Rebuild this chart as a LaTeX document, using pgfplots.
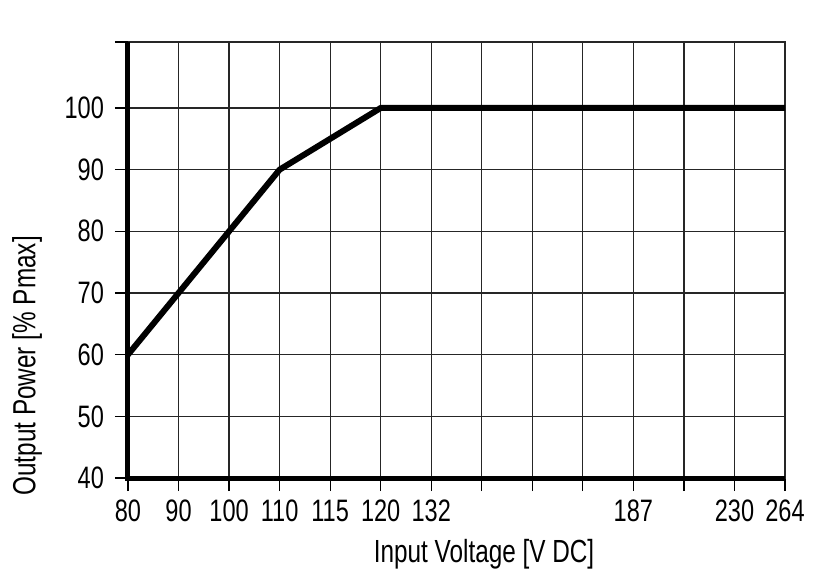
\documentclass[border=0pt]{standalone}
\usepackage{fontspec}
\setmainfont{Liberation Sans}[FakeStretch=0.76]
\usepackage{pgfplots}
\pgfplotsset{compat=1.18}

\begin{document}
\begin{tikzpicture}
\begin{axis}[
    scale only axis,
    width=328.5pt,
    height=218pt,
    xmin=0, xmax=13,
    ymin=40, ymax=110.7,
    xtick={0,1,...,13},
    xticklabels={80,90,100,110,115,120,132,,,,187,,230,264},
    ytick={40,50,...,100},
    extra y ticks={110.7},
    extra y tick labels={},
    extra y tick style={grid=none},
    /pgf/number format/assume math mode=true,
    tick align=outside,
    xtick pos=left,
    ytick pos=left,
    major tick length=6.5pt,
    tick style={black, line width=0.65pt},
    grid=major,
    grid style={black!85, line width=0.65pt},
    axis line style={black!85, line width=0.65pt},
    tick label style={font=\fontsize{15.5}{18}\selectfont},
    xticklabel style={yshift=-1pt},
    yticklabel style={xshift=-2pt},
    label style={font=\fontsize{16}{19}\selectfont},
    xlabel={Input Voltage [V DC]},
    ylabel={Output Power [\% Pmax]},
    xlabel style={at={(axis description cs:0.542,-0.174)}, anchor=center},
    ylabel style={at={(axis description cs:-0.1537,0.257)}, anchor=center},
    clip=false,
]
% thick left and bottom frame
\draw[line width=2.5pt, line join=miter] (rel axis cs:0,1) -- (rel axis cs:0,0) -- (rel axis cs:1,0);

% output power derating curve
\addplot[black, line width=3pt, line join=round] coordinates {
    (0,60) (1,70) (2,80) (3,90) (4,95) (5,100) (6,100) (7,100)
    (8,100) (9,100) (10,100) (11,100) (12,100) (13,100)
};
\end{axis}
\path (-64pt,-53.5pt) rectangle (343.5pt,239pt);
\end{tikzpicture}
\end{document}
